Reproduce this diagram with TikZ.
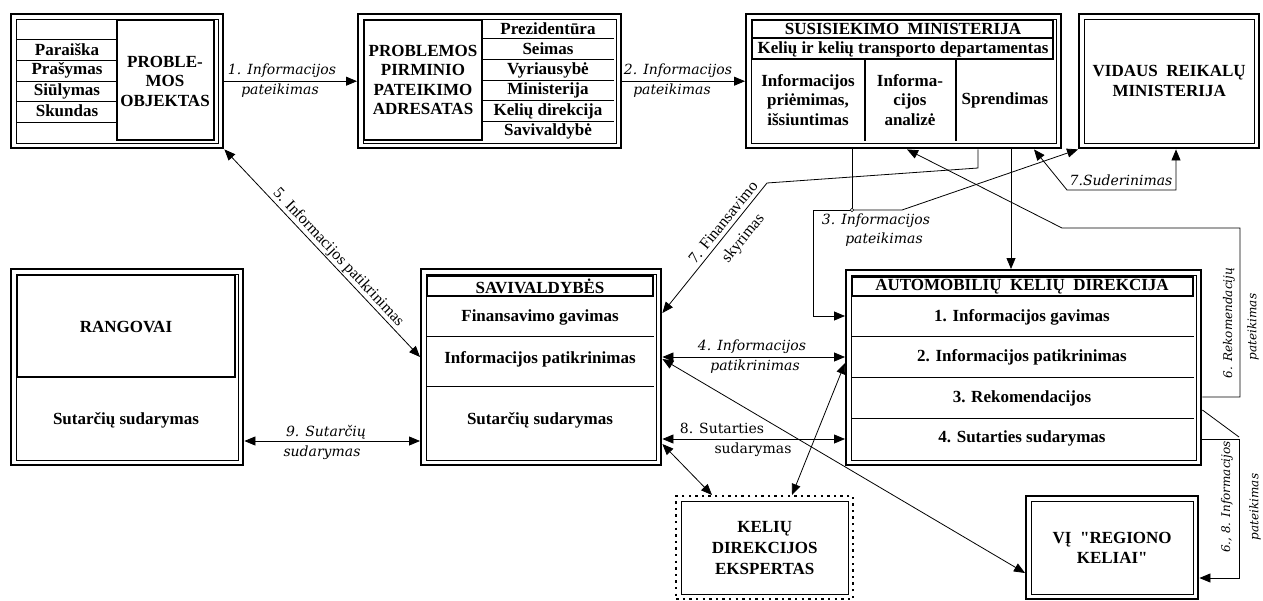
\documentclass[tikz,border=0pt]{standalone}
\usepackage{fontspec}
\setmainfont{Liberation Serif}
\newfontfamily\labfont{DejaVu Serif}
\usetikzlibrary{arrows.meta}
\newcommand\innerrect[1]{\draw[line width=1pt] ([xshift=6pt,yshift=-6pt]#1.north west) rectangle ([xshift=-6pt,yshift=6pt]#1.south east);}
\newcommand\sq{\XeTeXglyph\XeTeXglyphindex "quotedbl"\relax}
\tikzset{
 obox/.style={draw, line width=2.4pt, inner sep=0pt, anchor=north west, align=center, font=\bfseries\fontsize{17}{20}\selectfont},
 dotbox/.style={draw, line width=2.4pt, dash pattern=on 2.4pt off 4.2pt, inner sep=0pt, anchor=north west, align=center, font=\bfseries\fontsize{17}{21}\selectfont},
 tbox/.style={draw, line width=1.8pt},
 sepline/.style={line width=0.9pt},
 bt/.style={font=\bfseries\fontsize{17}{19.5}\selectfont, align=center, inner sep=0pt},
 lab/.style={font=\labfont\itshape\fontsize{14}{16}\selectfont, inner sep=0pt},
 vlab/.style={font=\labfont\itshape\fontsize{12}{14}\selectfont, inner sep=0pt, rotate=90},
 labup/.style={font=\labfont\fontsize{14}{16}\selectfont, inner sep=0pt},
 rlab/.style={font=\fontsize{16}{19}\selectfont, inner sep=1pt, align=center},
 conn/.style={line width=0.8pt, -{Triangle[length=11pt,width=9pt]}},
 conn2/.style={line width=0.8pt, {Triangle[length=11pt,width=9pt]}-{Triangle[length=11pt,width=9pt]}},
 wire/.style={line width=0.8pt},
}
\begin{document}
\begin{tikzpicture}[x=1pt,y=-1pt]
\useasboundingbox (0,0) rectangle (1263,600);
\fill[white] (0,0) rectangle (1263,600);

% ---------- Box 1: PROBLEMOS OBJEKTAS
\node[obox, minimum width=212pt, minimum height=134pt] (b1) at (10,13) {};
\innerrect{b1}
\draw[tbox] (117,20) rectangle (214,140);
\foreach \yy in {39,60,81,101,122} \draw[sepline] (16,\yy) -- (117,\yy);
\node[bt] (b1a) at (67,50) {Paraiška};
\node[bt] (b1b) at (67,70) {Prašymas};
\node[bt] (b1c) at (67,91) {Siūlymas};
\node[bt] (b1d) at (67,111) {Skundas};
\node[bt] (b1t) at (165,81) {PROBLE-\\MOS\\OBJEKTAS};

% ---------- Box 2: PROBLEMOS PIRMINIO PATEIKIMO ADRESATAS
\node[obox, minimum width=263pt, minimum height=134pt] (b2) at (357,13) {};
\innerrect{b2}
\draw[tbox] (364,20) rectangle (482,140);
\foreach \yy in {38,59,80,100,121} \draw[sepline] (482,\yy) -- (614,\yy);
\node[bt] (b2t) at (423,80) {PROBLEMOS\\PIRMINIO\\PATEIKIMO\\ADRESATAS};
\node[bt] (b2a) at (548,29) {Prezidentūra};
\node[bt] (b2b) at (548,49) {Seimas};
\node[bt] (b2c) at (548,70) {Vyriausybė};
\node[bt] (b2d) at (548,90) {Ministerija};
\node[bt] (b2e) at (548,111) {Kelių direkcija};
\node[bt] (b2f) at (548,131) {Savivaldybė};

% ---------- Box 3: SUSISIEKIMO MINISTERIJA
\node[obox, minimum width=315pt, minimum height=134pt] (b3) at (745,13) {};
\innerrect{b3}
\draw[tbox] (752,20) rectangle (1053,38);
\draw[tbox] (752,38) rectangle (1053,59);
\draw[line width=1.2pt] (865,59) -- (865,141);
\draw[line width=1.2pt] (956,59) -- (956,141);
\node[bt] (b3t) at (903,29) {SUSISIEKIMO\ \ MINISTERIJA};
\node[bt] (b3s) at (903,49) {Kelių ir kelių transporto departamentas};
\node[bt] (b3a) at (808,100) {Informacijos\\priėmimas,\\išsiuntimas};
\node[bt] (b3b) at (910,100) {Informa-\\cijos\\analizė};
\node[bt] (b3c) at (1005,100) {Sprendimas};

% ---------- Box 4: VIDAUS REIKALU MINISTERIJA
\node[obox, minimum width=180pt, minimum height=134pt] (b4) at (1078,13) {VIDAUS\ \ REIKALŲ\\MINISTERIJA};
\innerrect{b4}

% ---------- Box 5: RANGOVAI
\node[obox, minimum width=232pt, minimum height=196pt] (b5) at (10,268) {};
\innerrect{b5}
\draw[tbox] (17,275) rectangle (235,377);
\node[bt] (b5t) at (126,327) {RANGOVAI};
\node[bt] (b5a) at (126,420) {Sutarčių sudarymas};

% ---------- Box 6: SAVIVALDYBES
\node[obox, minimum width=240pt, minimum height=196pt] (b6) at (420,268) {};
\innerrect{b6}
\draw[tbox] (427,276) rectangle (653,296);
\draw[sepline] (426,336) -- (654,336);
\draw[sepline] (426,386) -- (654,386);
\node[bt] (b6t) at (540,286) {SAVIVALDYBĖS};
\node[bt] (b6a) at (540,317) {Finansavimo gavimas};
\node[bt] (b6b) at (540,359) {Informacijos patikrinimas};
\node[bt] (b6c) at (540,420) {Sutarčių sudarymas};

% ---------- Box 7: AUTOMOBILIU KELIU DIREKCIJA
\node[obox, minimum width=355pt, minimum height=195pt] (b7) at (845,269) {};
\innerrect{b7}
\draw[tbox] (852,277) rectangle (1193,296);
\foreach \yy in {336,377,418} \draw[sepline] (851,\yy) -- (1194,\yy);
\node[bt] (b7t) at (1022,287) {AUTOMOBILIŲ\ \ KELIŲ\ \ DIREKCIJA};
\node[bt] (b7a) at (1022,317) {1. Informacijos gavimas};
\node[bt] (b7b) at (1022,357) {2. Informacijos patikrinimas};
\node[bt] (b7c) at (1022,398) {3. Rekomendacijos};
\node[bt] (b7d) at (1022,438) {4. Sutarties sudarymas};

% ---------- Box 8: KELIU DIREKCIJOS EKSPERTAS (dotted)
\node[dotbox, minimum width=177pt, minimum height=103pt] (b8) at (675,495) {KELIŲ\\DIREKCIJOS\\EKSPERTAS};
\innerrect{b8}

% ---------- Box 9: VI REGIONO KELIAI
\node[obox, minimum width=172pt, minimum height=103pt] (b9) at (1025,495) {VĮ\ \ \sq REGIONO\\KELIAI\sq};
\innerrect{b9}

% ---------- Connectors
\draw[conn] (b1.east) -- (b2.west);
\node[lab] (l1a) at (282,71) {1. Informacijos};
\node[lab] (l1b) at (280,91) {pateikimas};

\draw[conn] (b2.east) -- (b3.west);
\node[lab] (l2a) at (678,71) {2. Informacijos};
\node[lab] (l2b) at (672,91) {pateikimas};

\coordinate (j3) at (852,210);
\draw[conn] (b3.south -| 852,0) -- (j3) -- (813,210) -- (813,316) -- (b7.west |- 0,316);
\draw[conn] (j3) -- (902,210) -- (b4.south west);
\draw[fill=white, line width=0.6pt] (j3) circle (1.8pt);
\node[lab] (l3a) at (876,221) {3. Informacijos};
\node[lab] (l3b) at (884,240) {pateikimas};

\draw[conn] (b3.south -| 978,0) -- (978,168) -- (767,183) -- (b6.east |- 0,313);
\node[rlab, rotate=51, font=\fontsize{16}{25}\selectfont] (l7) at (734,231) {7. Finansavimo\\skyrimas};

\draw[conn] (b3.south -| 1011,0) -- (b7.north -| 1011,0);

\draw[conn] (b7.east |- 0,397) -- (1240,397) -- (1240,228) -- (1062,228) -- (b3.south -| 907,0);
\node[vlab] (l6a) at (1229,323) {6. Rekomendacijų};
\node[vlab] (l6b) at (1253,327) {pateikimas};

\draw[conn2] (b3.south -| 1034,0) -- (1067,190) -- (1176,190) -- (b4.south -| 1176,0);
\node[lab] (l7s) at (1121,180) {7.Suderinimas};

\draw[conn2] (b1.south east) -- node[rlab, sloped, above, pos=0.55] (l5) {5. Informacijos patikrinimas} (b6.west |- 0,357);

\draw[conn2] (b5.east |- 0,441) -- (b6.west |- 0,441);
\node[lab] (l9a) at (326,432) {9. Sutarčių};
\node[lab] (l9b) at (322,453) {sudarymas};

\draw[conn2] (b6.east |- 0,357) -- (b7.west |- 0,357);
\node[lab] (l4a) at (752,347) {4. Informacijos};
\node[lab] (l4b) at (755,367) {patikrinimas};

\draw[conn2] (b6.east |- 0,439) -- (b7.west |- 0,439);
\node[labup] (l8a) at (722,428) {8. Sutarties};
\node[labup] (l8b) at (753,450) {sudarymas};

\draw[conn2] (b6.east |- 0,359) -- (b9.west |- 0,573);
\draw[conn2] (b6.east |- 0,444) -- (b8.north -| 712,0);
\draw[conn2] (b7.west |- 0,363) -- (b8.north -| 792,0);

\draw[conn] (b7.east |- 0,439) -- (1239,439) -- (1239,578) -- (b9.east |- 0,578);
\draw[wire] (b7.east |- 0,410) -- (1239,437);
\node[vlab] (l68a) at (1227,497) {6., 8. Informacijos};
\node[vlab] (l68b) at (1255,507) {pateikimas};
\end{tikzpicture}
\end{document}
